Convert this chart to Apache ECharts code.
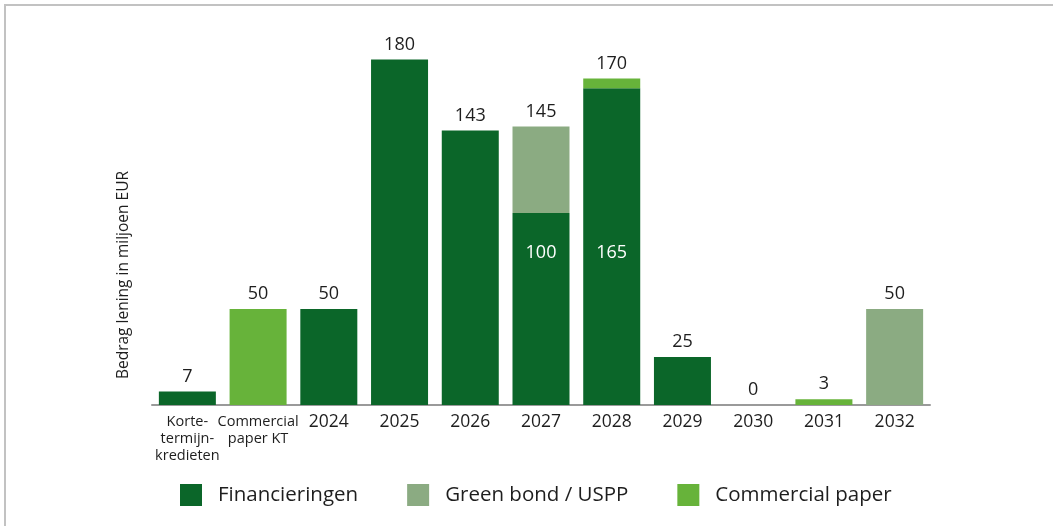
<!DOCTYPE html>
<html>
<head>
<meta charset="utf-8">
<script src="https://cdn.jsdelivr.net/npm/echarts@6/dist/echarts.min.js"></script>
<style>
  html, body { margin: 0; padding: 0; background: #fff; }
  #chart { width: 1053px; height: 526px; }
</style>
</head>
<body>
<div id="chart"></div>
<script>
// Looptijdenprofiel van leningen (miljoen EUR)
const categories = ['Korte-\ntermijn-\nkredieten', 'Commercial\npaper KT', '2024', '2025', '2026', '2027', '2028', '2029', '2030', '2031', '2032'];
const financieringen = [7, 0, 50, 180, 143, 100, 165, 25, 0, 0, 0];
const greenBond      = [0, 0, 0, 0, 0, 45, 0, 0, 0, 0, 50];
const commercialPaper = [0, 50, 0, 0, 0, 0, 5, 0, 0, 3, 0];

const seriesNames = ['Financieringen', 'Green bond / USPP', 'Commercial paper'];
const colors = ['#0b6629', '#8bab82', '#67b33a'];
const FONT = '"Open Sans", "Noto Sans", sans-serif';
const TEXT = '#1e1e1e';

const totals = categories.map((_, i) => financieringen[i] + greenBond[i] + commercialPaper[i]);

// Value printed inside the dark segment when other segments are stacked above it
const financieringenData = financieringen.map((v, i) => {
  const inside = v > 0 && totals[i] > v;
  return {
    value: v,
    label: {
      show: inside,
      position: 'insideBottom',
      distance: 143,
      color: '#ffffff',
      fontSize: 18,
      fontFamily: FONT
    }
  };
});

const chart = echarts.init(document.getElementById('chart'), null, { renderer: 'canvas' });

chart.setOption({
  backgroundColor: '#ffffff',
  animation: false,
  textStyle: { fontFamily: FONT },
  grid: { left: 152, right: 123, top: 21, bottom: 121 },
  legend: {
    data: seriesNames,
    left: 180,
    top: 484,
    padding: 0,
    itemWidth: 22,
    itemHeight: 22,
    itemGap: 49,
    icon: 'rect',
    textStyle: { fontSize: 20.5, color: TEXT, fontFamily: FONT, padding: [0, 0, 0, 11] }
  },
  xAxis: {
    type: 'category',
    data: categories,
    axisLine: { lineStyle: { color: '#9a9a9a', width: 2 } },
    axisTick: { show: false },
    axisLabel: {
      interval: 0,
      margin: 8,
      formatter: v => v.indexOf('\n') >= 0
        ? v.split('\n').map(l => '{s|' + l + '}').join('\n')
        : '{y|' + v + '}',
      rich: {
        s: { fontSize: 14.5, lineHeight: 17, color: TEXT, fontFamily: FONT },
        y: { fontSize: 17.5, lineHeight: 19, color: TEXT, fontFamily: FONT }
      }
    }
  },
  yAxis: { type: 'value', min: 0, max: 200, show: false },
  series: [
    {
      name: seriesNames[0], type: 'bar', stack: 'lening', barWidth: 57,
      itemStyle: { color: colors[0] },
      data: financieringenData
    },
    {
      name: seriesNames[1], type: 'bar', stack: 'lening', barWidth: 57,
      itemStyle: { color: colors[1] },
      data: greenBond
    },
    {
      name: seriesNames[2], type: 'bar', stack: 'lening', barWidth: 57,
      itemStyle: { color: colors[2] },
      data: commercialPaper
    },
    {
      // zero-height cap carrying the stack total
      name: 'Totaal', type: 'bar', stack: 'lening', barWidth: 57,
      itemStyle: { color: 'rgba(0,0,0,0)' },
      silent: true,
      data: totals.map(() => 0),
      label: {
        show: true,
        position: 'top',
        distance: 6,
        fontSize: 18,
        color: TEXT,
        fontFamily: FONT,
        formatter: p => String(totals[p.dataIndex])
      }
    }
  ],
  graphic: [
    {
      type: 'text',
      x: 124, y: 275,
      rotation: Math.PI / 2,
      style: {
        text: 'Bedrag lening in miljoen EUR',
        fontSize: 15.5,
        fontFamily: FONT,
        fill: TEXT,
        textAlign: 'center',
        textVerticalAlign: 'middle'
      }
    },
    {
      type: 'polyline',
      shape: { points: [[5, 526], [5, 5], [1053, 5]] },
      style: { stroke: '#c2c2c2', lineWidth: 2, fill: null }
    }
  ]
});
</script>
</body>
</html>
